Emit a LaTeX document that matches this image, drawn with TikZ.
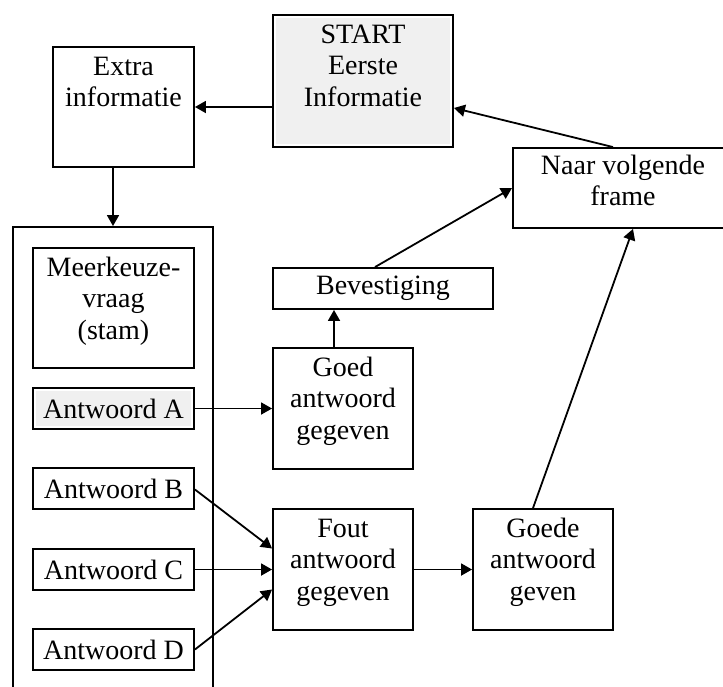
\documentclass[tikz,border=0pt]{standalone}
\usepackage{fontspec}
\setmainfont{Liberation Serif}
\usetikzlibrary{arrows.meta,calc}
\definecolor{boxgray}{HTML}{F0F0F0}
\newcommand\flowfont{\fontsize{28}{31.5}\selectfont}
\begin{document}
\begin{tikzpicture}[x=1pt,y=-1pt,
  box/.style={draw, rectangle, line width=1.9pt, inner sep=0pt, font=\flowfont},
  lbl/.style={anchor=north, inner sep=0pt, align=center, font=\flowfont},
  arr/.style={line width=1.8pt, -{Triangle[length=11pt,width=12pt]}},
  shaded/.style={path picture={\fill[boxgray]
      ([shift={(3pt,-3pt)}]path picture bounding box.north west) rectangle
      ([shift={(-3pt,3pt)}]path picture bounding box.south east);}}]
\useasboundingbox (0,0) rectangle (723,686);
\clip (0,0) rectangle (723,686);

% top row
\node[box, shaded, minimum width=180, minimum height=132] (start) at (363,81) {};
\node[lbl] (startT) at ([yshift=-7pt]start.north) {\strut START\\Eerste\\Informatie};
\node[box, minimum width=141, minimum height=120] (extra) at (123.5,107) {};
\node[lbl] (extraT) at ([yshift=-7pt]extra.north) {\strut Extra\\informatie};
\node[box, minimum width=220, minimum height=80] (naar) at (623,188) {};
\node[lbl] (naarT) at ([yshift=-5pt]naar.north) {\strut Naar volgende\\frame};

% question frame with the stem and the answer options
\node[box, minimum width=200, minimum height=500] (cont) at (113,477) {};
\node[box, minimum width=161, minimum height=120] (meer) at (113.5,308) {};
\node[lbl] (meerT) at ([yshift=-7pt]meer.north) {\strut Meerkeuze-\\vraag\\(stam)};
\node[box, shaded, minimum width=161, minimum height=41] (antA) at (113.5,408.5) {Antwoord A};
\node[box, minimum width=161, minimum height=41] (antB) at (113.5,488.5) {Antwoord B};
\node[box, minimum width=161, minimum height=41] (antC) at (113.5,569.5) {Antwoord C};
\node[box, minimum width=161, minimum height=41] (antD) at (113.5,649.5) {Antwoord D};

% feedback boxes
\node[box, minimum width=220, minimum height=41] (bev) at (383,288.5) {Bevestiging};
\node[box, minimum width=140, minimum height=121] (goed) at (343,408.5) {};
\node[lbl] (goedT) at ([yshift=-7pt]goed.north) {\strut Goed\\antwoord\\gegeven};
\node[box, minimum width=140, minimum height=121] (fout) at (343,569.5) {};
\node[lbl] (foutT) at ([yshift=-7pt]fout.north) {\strut Fout\\antwoord\\gegeven};
\node[box, minimum width=140, minimum height=121] (goede) at (543,569.5) {};
\node[lbl] (goedeT) at ([yshift=-7pt]goede.north) {\strut Goede\\antwoord\\geven};

% connectors
\draw[arr] (extra.east -| start.west) -- (extra.east);
\draw[arr] ([xshift=-10pt]naar.north) -- ([yshift=-27pt]start.east);
\draw[arr] (extra.south -| cont.north) -- (cont.north);
\draw[arr] ([xshift=-9pt]goed.north) -- ([xshift=-9pt]goed.north |- bev.south);
\draw[arr] ([xshift=-8pt]bev.north) -- (naar.west);
\draw[arr] (antA.east) -- (goed.west);
\draw[arr] ([yshift=-1pt]antB.east) -- ([yshift=21pt]fout.west);
\draw[arr] (antC.east) -- (fout.west);
\draw[arr] (antD.east) -- ([yshift=-20pt]fout.west);
\draw[arr] (fout.east) -- (goede.west);
\draw[arr] ([xshift=-10pt]goede.north) -- ([xshift=10pt]naar.south);
\end{tikzpicture}
\end{document}
